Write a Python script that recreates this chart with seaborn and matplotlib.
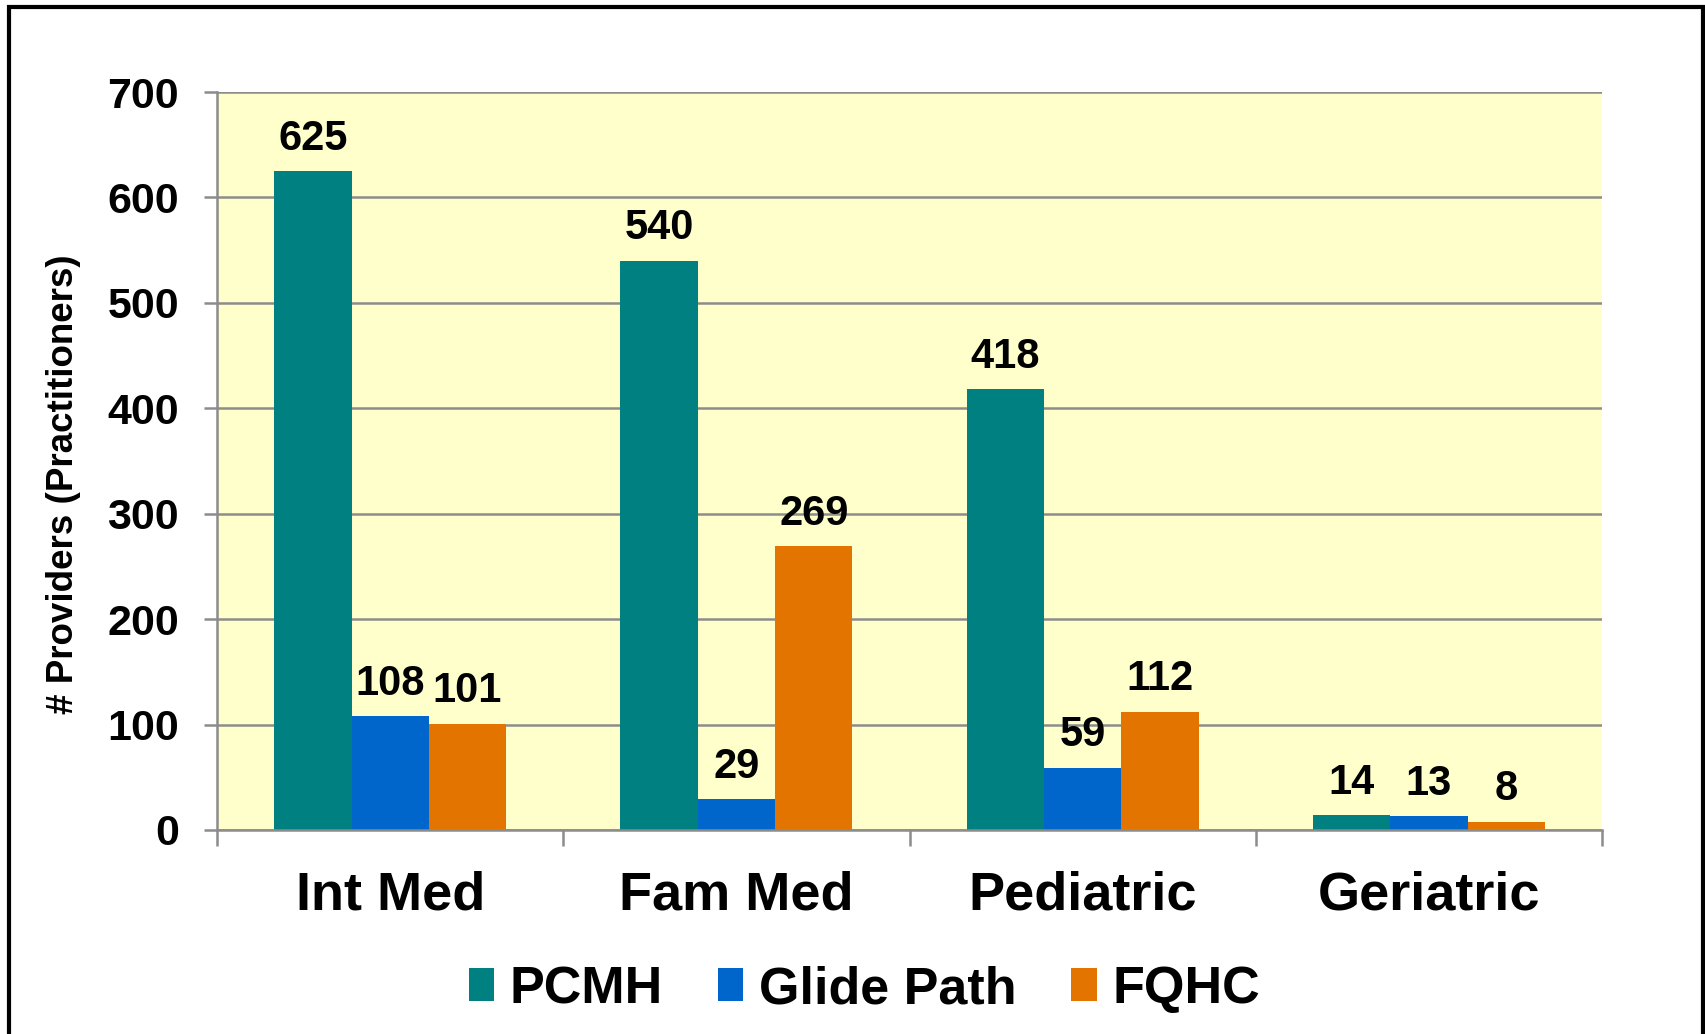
import pandas as pd
import matplotlib.pyplot as plt
import seaborn as sns
from matplotlib.patches import Rectangle

# chart values
categories = ['Int Med', 'Fam Med', 'Pediatric', 'Geriatric']
series_names = ['PCMH', 'Glide Path', 'FQHC']
pcmh = [625, 540, 418, 14]
glide_path = [108, 29, 59, 13]
fqhc = [101, 269, 112, 8]
y_ticks = [0, 100, 200, 300, 400, 500, 600, 700]

colors = ['#008080', '#0066CC', '#E37400']

df = pd.DataFrame({
    'Specialty': categories * 3,
    'Program': [s for s in series_names for _ in categories],
    'Providers': pcmh + glide_path + fqhc,
})

sns.set_style('white')
plt.rcParams['font.family'] = ['Liberation Sans', 'DejaVu Sans']
plt.rcParams['font.weight'] = 'bold'
plt.rcParams['text.color'] = 'black'
plt.rcParams['axes.labelcolor'] = 'black'
plt.rcParams['xtick.color'] = 'black'
plt.rcParams['ytick.color'] = 'black'

fig = plt.figure(figsize=(17.05, 10.34), dpi=100)
ax = fig.add_axes([0.1273, 0.1973, 0.8123, 0.7137])
ax.set_facecolor('#FFFFCC')

sns.barplot(data=df, x='Specialty', y='Providers', hue='Program',
            palette=colors, width=0.67, saturation=1, gap=0,
            edgecolor='none', ax=ax)

for container in ax.containers:
    ax.bar_label(container, padding=9, fontsize=30, fontweight='bold', color='black')

grid_col = '#8C8C8C'
ax.set_ylim(0, 700)
ax.set_yticks(y_ticks)
ax.set_xlim(-0.5, len(categories) - 0.5)
ax.yaxis.grid(True, color=grid_col, lw=1.8)
ax.set_axisbelow(True)
for side in ['top', 'right']:
    ax.spines[side].set_visible(False)
for side in ['left', 'bottom']:
    ax.spines[side].set_color(grid_col)
    ax.spines[side].set_linewidth(1.8)

# tick marks between categories, labels at centres
ax.set_xticks([i - 0.5 for i in range(len(categories) + 1)], minor=True)
ax.tick_params(axis='x', which='major', length=0, pad=29, labelsize=39, labelcolor='black')
ax.tick_params(axis='x', which='minor', length=11.5, width=1.8, color=grid_col, bottom=True)
ax.tick_params(axis='y', length=9.4, width=1.8, color=grid_col, pad=18, labelsize=31,
               labelcolor='black', left=True)

ax.set_xlabel('')
ax.set_ylabel('# Providers (Practitioners)', fontsize=26.5, fontweight='bold', color='black')
ax.yaxis.set_label_coords(-0.098, 0.469)

handles, labels = ax.get_legend_handles_labels()
ax.get_legend().remove()
fig.legend(handles, labels, loc='center', bbox_to_anchor=(0.507, 0.043), ncol=3,
           frameon=False, fontsize=37.5, handlelength=0.49, handleheight=0.58,
           handletextpad=0.3, columnspacing=1.05)

# outer frame
fig.patches.append(Rectangle((0.0053, -0.02), 0.9935, 1.0132, transform=fig.transFigure,
                             fill=False, lw=3, ec='black'))

fig.savefig('out.png', dpi=100)
